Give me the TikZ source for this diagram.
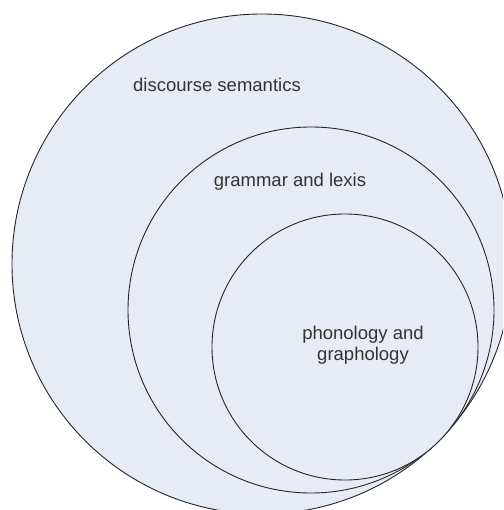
\documentclass[tikz,border=0pt]{standalone}
\usepackage{fontspec}
\setmainfont{Liberation Sans}
\usepackage{tikz}

\definecolor{ringfill}{HTML}{E6EBF5}
\definecolor{labelgray}{HTML}{333333}

\begin{document}
\begin{tikzpicture}[x=1pt,y=-1pt,
    ring/.style={draw=black!85,line width=0.9pt,fill=ringfill},
    lbl/.style={text=labelgray,font=\fontsize{18.5}{21}\selectfont,align=center,inner sep=0pt}]
  \useasboundingbox (0,0) rectangle (503,510);
  \clip (0,0) rectangle (503,510);
  \coordinate (Odisc) at (262,264);
  \coordinate (Ogram) at (311,310);
  \coordinate (Ophon) at (345,347);
  % the three strata
  \draw[ring] (Odisc) circle (250);
  \draw[ring] (Ogram) circle (183);
  \draw[ring] (Ophon) circle (133);
  \node[lbl] (disc) at (217,85) {discourse semantics};
  \node[lbl] (gram) at (290,182) {grammar and lexis};
  \node[lbl] (phon) at (363,345) {phonology and\\graphology};
\end{tikzpicture}
\end{document}
